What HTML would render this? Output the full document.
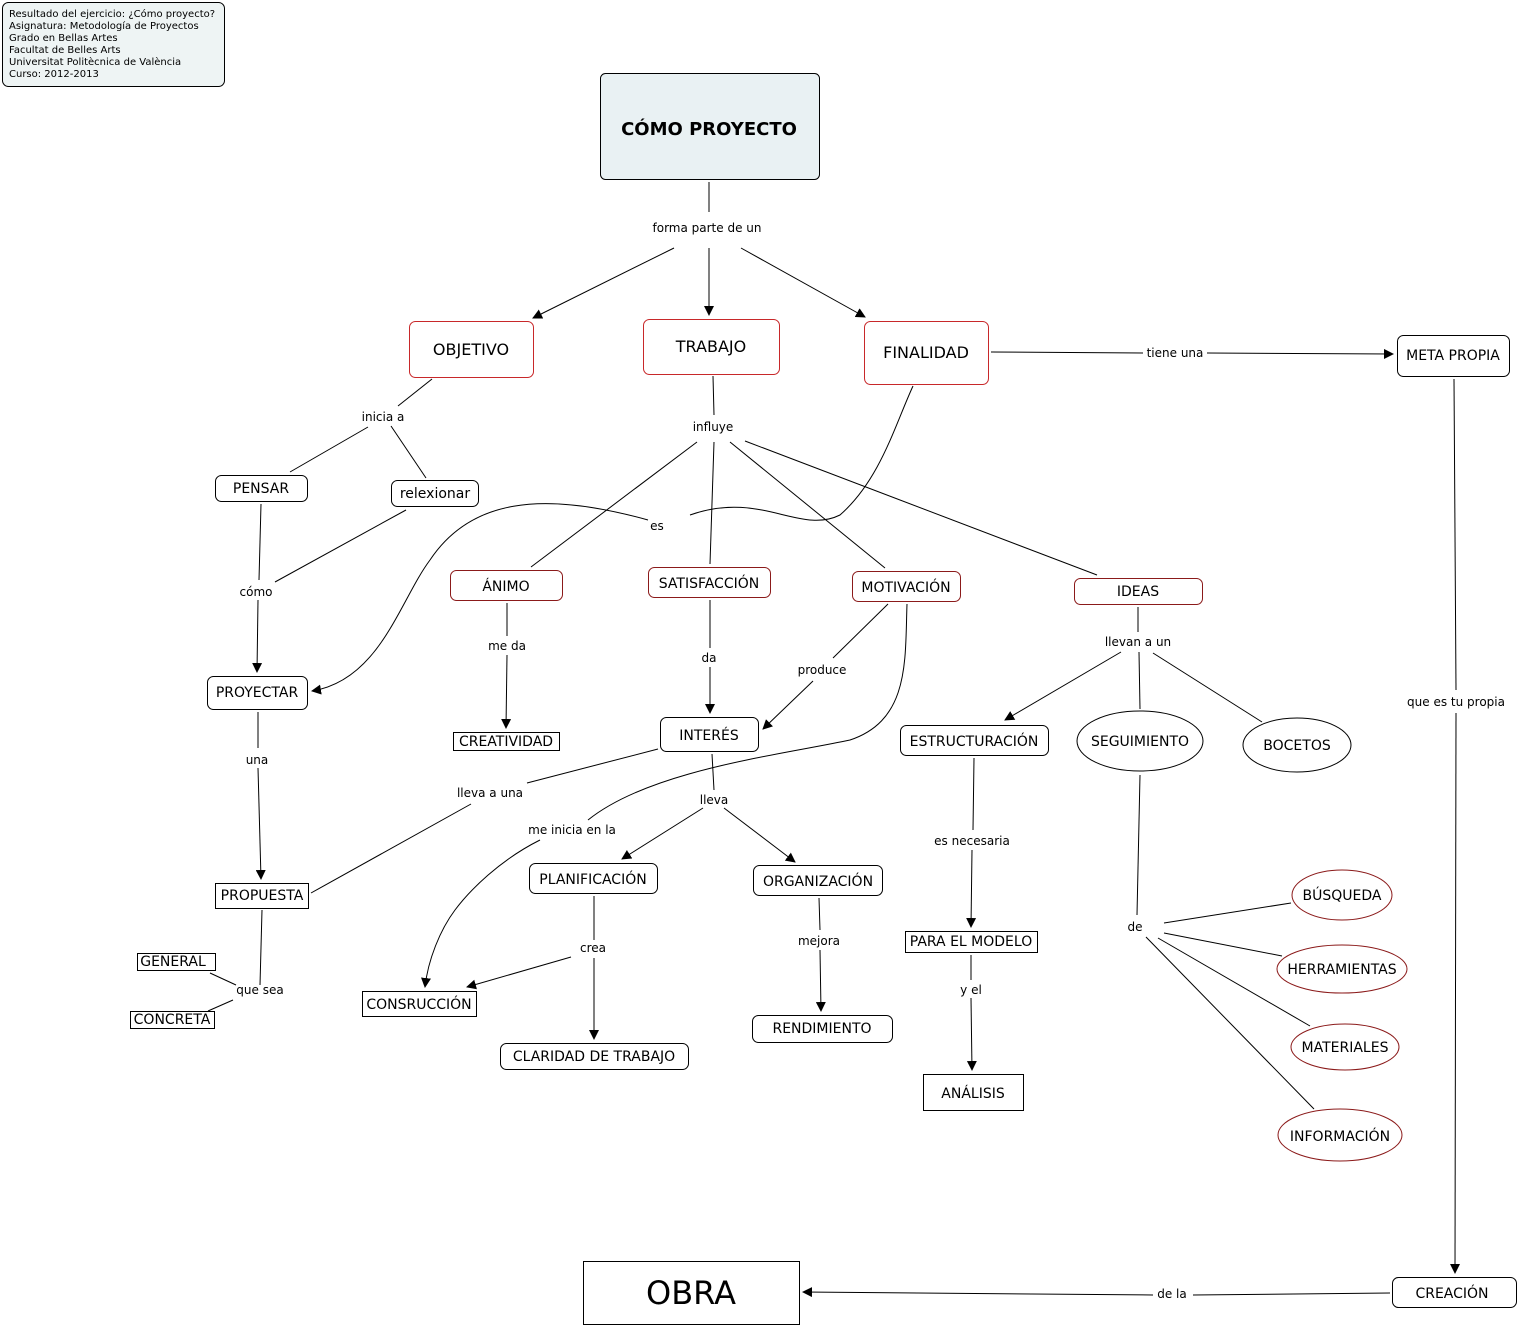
<!DOCTYPE html><html><head><meta charset="utf-8"><style>body{margin:0;background:#fff}svg{display:block}text{font-family:"DejaVu Sans","Liberation Sans",sans-serif;fill:#000}</style></head><body>
<svg width="1518" height="1326" viewBox="0 0 1518 1326" xmlns="http://www.w3.org/2000/svg">
<defs><marker id="a" viewBox="0 0 10 10" refX="9" refY="5" markerWidth="10" markerHeight="10" markerUnits="userSpaceOnUse" orient="auto"><path d="M0,0L10,5L0,10z"/></marker></defs>
<g stroke="#000" stroke-width="1" fill="none">
<path d="M709,182V212"/><path d="M674,248L533,318" marker-end="url(#a)"/><path d="M709,248V315" marker-end="url(#a)"/><path d="M741,248L865,317" marker-end="url(#a)"/>
<path d="M991,352L1143,353"/><path d="M1207,353L1393,354" marker-end="url(#a)"/>
<path d="M432,379L398,406"/><path d="M368,427L290,472"/><path d="M391,426L426,478"/>
<path d="M261,504L259,580"/><path d="M258,600L257,672" marker-end="url(#a)"/><path d="M406,510L275,582"/>
<path d="M713,376L714,415"/><path d="M697,442L531,567"/><path d="M714,442L710,564"/><path d="M730,442L885,568"/><path d="M745,441L1097,575"/>
<path d="M913,386C895,425 880,480 840,515C800,535 760,490 690,515"/><path d="M648,520C540,490 470,500 430,560C400,600 380,680 312,691" marker-end="url(#a)"/>
<path d="M507,603V636"/><path d="M507,655L506,728" marker-end="url(#a)"/>
<path d="M710,600V648"/><path d="M710,667V713" marker-end="url(#a)"/>
<path d="M888,604L833,658"/><path d="M813,681L763,729" marker-end="url(#a)"/>
<path d="M907,604C905,660 910,720 850,740C780,755 650,770 588,820"/><path d="M540,840C500,860 470,890 455,910C440,930 428,960 425,987" marker-end="url(#a)"/>
<path d="M1138,607V632"/><path d="M1121,652L1005,720" marker-end="url(#a)"/><path d="M1139,652L1140,709"/><path d="M1153,653L1262,722"/>
<path d="M258,712V748"/><path d="M258,768L261,879" marker-end="url(#a)"/>
<path d="M658,749L527,783"/><path d="M471,804L311,893"/>
<path d="M712,754L714,790"/><path d="M703,808L622,859" marker-end="url(#a)"/><path d="M724,808L795,862" marker-end="url(#a)"/>
<path d="M594,896V940"/><path d="M571,957L467,987" marker-end="url(#a)"/><path d="M594,958V1039" marker-end="url(#a)"/>
<path d="M819,898L820,930"/><path d="M820,950L821,1011" marker-end="url(#a)"/>
<path d="M974,758L973,830"/><path d="M972,850L971,927" marker-end="url(#a)"/><path d="M971,955V980"/><path d="M971,998L972,1070" marker-end="url(#a)"/>
<path d="M1140,775L1137,915"/><path d="M1164,923L1291,903"/><path d="M1164,933L1282,956"/><path d="M1158,938L1310,1026"/><path d="M1146,937L1314,1109"/>
<path d="M262,910L260,985"/><path d="M210,973L236,985"/><path d="M233,1000L208,1011"/>
<path d="M1454,379L1456,690"/><path d="M1456,713L1455,1273" marker-end="url(#a)"/>
<path d="M1390,1293L1193,1295"/><path d="M1153,1295L803,1292" marker-end="url(#a)"/>
</g>
<g stroke-width="1">
<rect x="2.5" y="2.5" width="222" height="84" rx="6" fill="#eef4f4" stroke="#000"/>
<rect x="600.5" y="73.5" width="219" height="106" rx="5" fill="#e9f1f3" stroke="#000"/>
<g fill="#fff" stroke="#c8282a">
<rect x="409.5" y="321.5" width="124" height="56" rx="6"/><rect x="643.5" y="319.5" width="136" height="55" rx="6"/><rect x="864.5" y="321.5" width="124" height="63" rx="6"/></g>
<g fill="#fff" stroke="#8b1a1a">
<rect x="450.5" y="570.5" width="112" height="30" rx="6"/><rect x="648.5" y="567.5" width="122" height="30" rx="6"/><rect x="852.5" y="571.5" width="108" height="30" rx="6"/><rect x="1074.5" y="578.5" width="128" height="26" rx="6"/>
<ellipse cx="1342" cy="895" rx="50" ry="25"/><ellipse cx="1342" cy="969" rx="65" ry="24"/><ellipse cx="1345" cy="1047" rx="54" ry="23"/><ellipse cx="1340" cy="1135" rx="62" ry="26"/></g>
<g fill="#fff" stroke="#000">
<rect x="1397.5" y="335.5" width="112" height="41" rx="6"/><rect x="215.5" y="475.5" width="92" height="26" rx="6"/><rect x="391.5" y="480.5" width="87" height="26" rx="6"/>
<rect x="207.5" y="676.5" width="100" height="33" rx="6"/><rect x="453.5" y="732.5" width="106" height="18"/><rect x="660.5" y="717.5" width="98" height="34" rx="6"/>
<rect x="900.5" y="725.5" width="148" height="30" rx="6"/><ellipse cx="1140" cy="741" rx="63" ry="30"/><ellipse cx="1297" cy="745" rx="54" ry="27"/>
<rect x="215.5" y="883.5" width="93" height="25"/><rect x="529.5" y="863.5" width="128" height="30" rx="6"/><rect x="753.5" y="865.5" width="129" height="30" rx="6"/>
<rect x="137.5" y="953.5" width="78" height="17"/><rect x="130.5" y="1011.5" width="84" height="17"/><rect x="362.5" y="991.5" width="114" height="25"/>
<rect x="500.5" y="1043.5" width="188" height="26" rx="6"/><rect x="752.5" y="1015.5" width="140" height="27" rx="6"/><rect x="905.5" y="931.5" width="132" height="21"/>
<rect x="923.5" y="1074.5" width="100" height="36"/><rect x="583.5" y="1261.5" width="216" height="63"/><rect x="1392.5" y="1277.5" width="124" height="30" rx="6"/></g>
</g>
<g font-size="10"><text x="9" y="17">Resultado del ejercicio: ¿Cómo proyecto?</text><text x="9" y="29">Asignatura: Metodología de Proyectos</text><text x="9" y="41">Grado en Bellas Artes</text><text x="9" y="53">Facultat de Belles Arts</text><text x="9" y="65">Universitat Politècnica de València</text><text x="9" y="77">Curso: 2012-2013</text></g>
<g font-size="12" text-anchor="middle">
<text x="707" y="232">forma parte de un</text><text x="1175" y="357">tiene una</text><text x="383" y="421">inicia a</text><text x="256" y="596">cómo</text><text x="713" y="431">influye</text><text x="657" y="530">es</text>
<text x="507" y="650">me da</text><text x="709" y="662">da</text><text x="822" y="674">produce</text><text x="1138" y="646">llevan a un</text><text x="257" y="764">una</text><text x="490" y="797">lleva a una</text>
<text x="714" y="804">lleva</text><text x="572" y="834">me inicia en la</text><text x="593" y="952">crea</text><text x="819" y="945">mejora</text><text x="972" y="845">es necesaria</text><text x="971" y="994">y el</text>
<text x="1135" y="931">de</text><text x="260" y="994">que sea</text><text x="1456" y="706">que es tu propia</text><text x="1172" y="1298">de la</text>
</g>
<g font-size="14" text-anchor="middle">
<text x="709" y="135" font-weight="bold" font-size="18">CÓMO PROYECTO</text>
<text x="471" y="355" font-size="16">OBJETIVO</text><text x="711" y="352" font-size="16">TRABAJO</text><text x="926" y="358" font-size="16">FINALIDAD</text>
<text x="1453" y="360">META PROPIA</text><text x="261" y="493">PENSAR</text><text x="435" y="498">relexionar</text>
<text x="506" y="591">ÁNIMO</text><text x="709" y="588">SATISFACCIÓN</text><text x="906" y="592">MOTIVACIÓN</text><text x="1138" y="596">IDEAS</text>
<text x="257" y="697">PROYECTAR</text><text x="506" y="746">CREATIVIDAD</text><text x="709" y="740">INTERÉS</text><text x="974" y="746">ESTRUCTURACIÓN</text><text x="1140" y="746">SEGUIMIENTO</text><text x="1297" y="750">BOCETOS</text>
<text x="262" y="900">PROPUESTA</text><text x="593" y="884">PLANIFICACIÓN</text><text x="818" y="886">ORGANIZACIÓN</text><text x="173" y="966">GENERAL</text><text x="172" y="1024">CONCRETA</text><text x="419" y="1009">CONSRUCCIÓN</text>
<text x="594" y="1061">CLARIDAD DE TRABAJO</text><text x="822" y="1033">RENDIMIENTO</text><text x="971" y="946">PARA EL MODELO</text><text x="973" y="1098">ANÁLISIS</text>
<text x="1342" y="900">BÚSQUEDA</text><text x="1342" y="974">HERRAMIENTAS</text><text x="1345" y="1052">MATERIALES</text><text x="1340" y="1141">INFORMACIÓN</text>
<text x="691" y="1304" font-size="32">OBRA</text><text x="1452" y="1298">CREACIÓN</text>
</g>
</svg></body></html>
